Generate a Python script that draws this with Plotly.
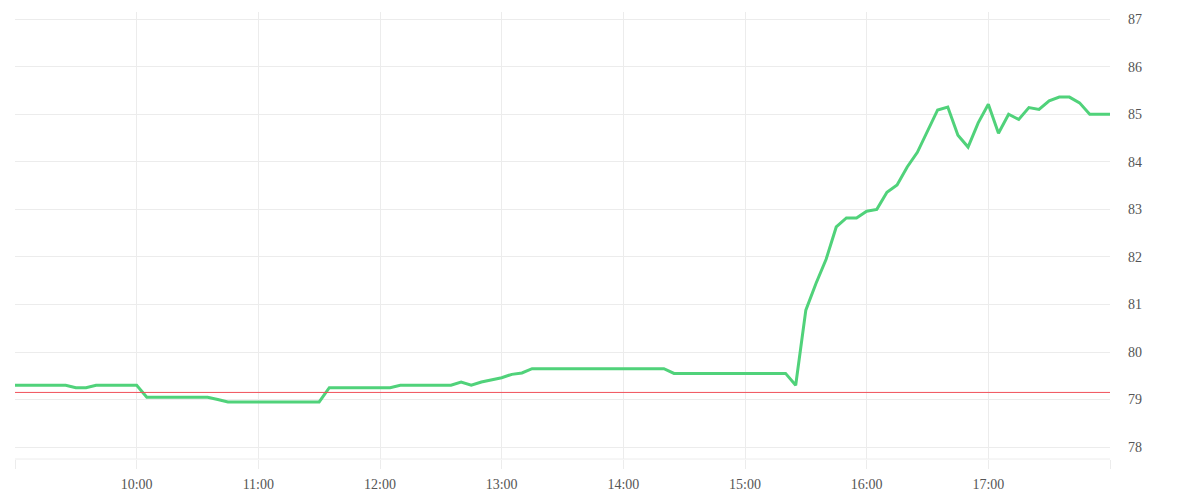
import pandas as pd
import plotly.graph_objects as go

# 5-minute bars from 09:00 to 18:00
times = pd.date_range("2024-01-02 09:00", "2024-01-02 18:00", freq="5min")

prices = [
    79.30, 79.30, 79.30, 79.30, 79.30, 79.30, 79.25, 79.25, 79.30, 79.30,
    79.30, 79.30, 79.30, 79.05, 79.05, 79.05, 79.05, 79.05, 79.05, 79.05,
    79.00, 78.95, 78.95, 78.95, 78.95, 78.95, 78.95, 78.95, 78.95, 78.95,
    78.95, 79.25, 79.25, 79.25, 79.25, 79.25, 79.25, 79.25, 79.30, 79.30,
    79.30, 79.30, 79.30, 79.30, 79.37, 79.30, 79.37, 79.41, 79.46, 79.53,
    79.56, 79.65, 79.65, 79.65, 79.65, 79.65, 79.65, 79.65, 79.65, 79.65,
    79.65, 79.65, 79.65, 79.65, 79.65, 79.55, 79.55, 79.55, 79.55, 79.55,
    79.55, 79.55, 79.55, 79.55, 79.55, 79.55, 79.55, 79.30, 80.88, 81.44,
    81.95, 82.63, 82.82, 82.82, 82.96, 83.00, 83.36, 83.51, 83.89, 84.20,
    84.64, 85.09, 85.15, 84.56, 84.31, 84.82, 85.21, 84.60, 85.00, 84.89,
    85.14, 85.10, 85.28, 85.36, 85.36, 85.24, 85.00, 85.00, 85.00,
]

prev_close = 79.15

x_tick_vals = pd.date_range("2024-01-02 09:00", "2024-01-02 18:00", freq="60min")
x_tick_text = ["", "10:00", "11:00", "12:00", "13:00", "14:00", "15:00", "16:00", "17:00", ""]
y_tick_vals = [78, 79, 80, 81, 82, 83, 84, 85, 86, 87]

fig = go.Figure()
fig.add_trace(go.Scatter(
    x=times, y=prices, mode="lines",
    line=dict(color="#50d27a", width=3),
    hoverinfo="x+y", showlegend=False,
))
fig.add_shape(type="line", xref="paper", x0=0, x1=1, yref="y",
              y0=prev_close, y1=prev_close,
              line=dict(color="#f0505a", width=1))

grid = "#ececec"
fig.update_layout(
    width=1200, height=500,
    margin=dict(l=15, r=90, t=12, b=41),
    paper_bgcolor="white", plot_bgcolor="white",
    font=dict(family="Liberation Serif", size=14, color="#555555"),
    xaxis=dict(
        range=[times[0], times[-1]],
        tickvals=list(x_tick_vals), ticktext=x_tick_text,
        showgrid=True, gridcolor=grid, gridwidth=1,
        ticks="outside", ticklen=9, tickcolor=grid,
        ticklabelstandoff=3, automargin=False,
        zeroline=False, showline=False,
    ),
    yaxis=dict(
        side="right", range=[77.75, 87.15],
        tickvals=y_tick_vals,
        showgrid=True, gridcolor=grid, gridwidth=1,
        ticks="", ticklabelstandoff=17, automargin=False,
        zeroline=False, showline=False,
    ),
)
fig.add_shape(type="line", xref="paper", yref="paper", x0=0, x1=1, y0=0, y1=0,
              line=dict(color=grid, width=1), layer="below")
fig.write_html("out.html")
